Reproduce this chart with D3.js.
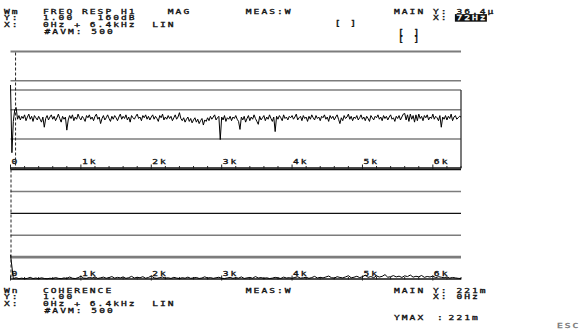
<!DOCTYPE html>
<html><head><meta charset="utf-8">
<script src="https://cdn.jsdelivr.net/npm/d3@7"></script>
<style>
body{margin:0;background:#fff}
svg text{font-family:"DejaVu Sans Mono",monospace;font-size:6px;fill:#111;stroke:#111;stroke-width:0.28px}
</style>
</head><body>
<svg id="c" width="583" height="329"></svg>
<script>
// ---- data ----
const magStepHz = 20;           // spacing of the magnitude samples
const cohStepHz = 40;           // spacing of the coherence samples
const freqMaxHz = 6400;
// FREQ RESP H1, magnitude in dB (0 dB = 1.00, 160 dB range)
const magDb = [
 -46,-139,-96,-80,-77,-93,-88,-94,-89,-92,
 -87,-95,-90,-86,-93,-89,-96,-88,-91,-94,
 -89,-93,-97,-90,-104,-92,-88,-94,-90,-87,
 -93,-89,-95,-91,-86,-92,-97,-89,-93,-90,
 -108,-94,-88,-92,-87,-95,-90,-93,-86,-91,
 -94,-89,-92,-96,-88,-91,-87,-93,-90,-95,
 -89,-86,-93,-90,-99,-92,-88,-94,-91,-87,
 -92,-96,-89,-93,-88,-91,-95,-90,-86,-93,
 -89,-92,-87,-94,-90,-97,-88,-91,-93,-89,
 -86,-92,-90,-95,-88,-91,-87,-93,-89,-94,
 -90,-87,-93,-89,-92,-96,-88,-91,-86,-94,
 -90,-93,-88,-92,-89,-95,-91,-87,-93,-90,
 -84,-92,-95,-91,-97,-93,-90,-96,-92,-98,
 -94,-91,-97,-93,-99,-95,-92,-101,-94,-96,
 -91,-95,-89,-93,-90,-87,-94,-91,-89,-121,
 -90,-94,-88,-96,-91,-93,-89,-95,-90,-92,
 -88,-93,-96,-107,-90,-94,-89,-97,-92,-88,
 -95,-90,-93,-87,-92,-96,-100,-89,-94,-91,
 -88,-95,-90,-93,-87,-92,-96,-90,-110,-89,
 -93,-88,-91,-95,-87,-92,-90,-94,-89,-91,
 -88,-93,-90,-86,-94,-91,-89,-95,-88,-92,
 -90,-96,-89,-93,-87,-91,-94,-88,-92,-90,
 -95,-89,-91,-87,-93,-90,-96,-88,-92,-89,
 -94,-90,-87,-93,-99,-91,-95,-88,-92,-90,
 -86,-93,-89,-95,-90,-92,-88,-94,-91,-87,
 -93,-90,-95,-89,-92,-96,-88,-91,-94,-89,
 -91,-87,-93,-90,-95,-88,-92,-89,-94,-90,
 -87,-93,-91,-96,-89,-92,-88,-94,-90,-86,
 -85,-94,-87,-96,-86,-93,-88,-97,-87,-95,
 -86,-92,-89,-95,-88,-91,-87,-94,-90,-92,
 -86,-93,-89,-91,-95,-88,-104,-90,-93,-88,
 -94,-89,-92,-86,-95,-90,-88,-93,-91,-89,
 -90
];
// COHERENCE (linear, 0..1)
const coherence = [
 0.221,0.004,0.012,0.003,0.008,0.002,0.006,0.015,0.004,0.009,
 0.003,0.011,0.005,0.002,0.007,0.004,0.013,0.006,0.003,0.010,
 0.005,0.018,0.007,0.004,0.012,0.025,0.008,0.006,0.014,0.009,
 0.020,0.005,0.011,0.017,0.007,0.013,0.022,0.008,0.015,0.010,
 0.019,0.006,0.012,0.024,0.009,0.016,0.011,0.021,0.007,0.014,
 0.028,0.010,0.006,0.013,0.018,0.008,0.011,0.005,0.015,0.009,
 0.004,0.012,0.007,0.017,0.006,0.010,0.014,0.005,0.009,0.020,
 0.008,0.013,0.006,0.011,0.016,0.007,0.004,0.010,0.015,0.006,
 0.012,0.008,0.019,0.005,0.010,0.014,0.007,0.022,0.009,0.013,
 0.006,0.011,0.004,0.008,0.015,0.010,0.005,0.017,0.009,0.012,
 0.007,0.014,0.020,0.008,0.011,0.016,0.006,0.013,0.024,0.009,
 0.015,0.010,0.018,0.027,0.012,0.008,0.021,0.014,0.010,0.019,
 0.030,0.011,0.016,0.025,0.013,0.020,0.035,0.015,0.022,0.012,
 0.028,0.018,0.024,0.040,0.016,0.021,0.031,0.019,0.026,0.014,
 0.029,0.022,0.036,0.017,0.025,0.020,0.032,0.015,0.023,0.018,
 0.027,0.012,0.021,0.016,0.011,0.019,0.008,0.014,0.010,0.006,
 0.004
];
const majorTickHz = [0,1000,2000,3000,4000,5000,6000];
const tickLabels = ["0","1k","2k","3k","4k","5k","6k"];
const minorStepHz = 200;
const magGridDb = [0,-40,-80,-120];
const magWindowDb = -53;
const magRangeDb = [-160,0];
const cohGridBlack = [0.6];
const cohGridGray = [0.8,0.4];
const cohGridDouble = [0.2];
const cursorTopHz = 72;
const cursorBotHz = 0;

// header texts  [text, column, row]  (fixed-pitch character grid)
const topHeader = [
 ["Wm",0,0],["FREQ RESP H1",5,0],["MAG",21,0],["MEAS:W",31,0],
 ["MAIN",50,0],["Y:",55,0],["36.4µ",58,0],
 ["Y:",0,1],["1.00",5,1],["160dB",12,1],["[ ]",42.4,1.6],["X:",55,1],
 ["X:",0,2],["0Hz + 6.4kHz",5,2],["LIN",19,2],["[  ]",50.5,3],
 ["#AVM: 500",5.2,3],["[  ]",50.5,4]
];
const topHighlight = ["72Hz",58,1];
const botHeader = [
 ["Wn",0,0],["COHERENCE",5,0],["MEAS:W",31,0],["MAIN",50,0],["Y:",55,0],["221m",58,0],
 ["Y:",0,1],["1.00",5,1],["X:",55,1],["0Hz",58,1],
 ["X:",0,2],["0Hz + 6.4kHz",5,2],["LIN",19,2],
 ["#AVM: 500",5.2,3]
];
const ymaxText = [["YMAX",50],[":",55.5],["221m",57]];

// ---- drawing ----
const svg = d3.select("#c");
const x = d3.scaleLinear([0,freqMaxHz],[10.5,461]);
const yTop = d3.scaleLinear(magRangeDb,[168,51.5]);
const yBot = d3.scaleLinear([0,1],[279,169.5]);
const colX = c => 4 + c*7.8;

function T(g,xp,yp,s){
  return g.append("text")
    .attr("transform",`translate(${xp},${yp}) scale(1.6,1.12)`)
    .attr("letter-spacing","1.27px").text(s);
}
const gray="#7c7c7c";
function hline(y,x0,x1,col,w){
  svg.append("line").attr("x1",x0).attr("x2",x1).attr("y1",y).attr("y2",y)
    .attr("stroke",col).attr("stroke-width",w);
}

// top header
const rowH = 6.9;
const topY = r => 13.5 + r*rowH;
const th = svg.append("g");
topHeader.forEach(d=>T(th,colX(d[1]),topY(d[2]),d[0]));
th.append("rect").attr("x",colX(topHighlight[1])-1.5).attr("y",topY(topHighlight[2])-6.3)
  .attr("width",32).attr("height",7.6).attr("fill","#111");
T(th,colX(topHighlight[1]),topY(topHighlight[2]),topHighlight[0]).style("fill","#fff").style("stroke","#fff");

// top panel grid
magGridDb.forEach(v=>hline(yTop(v),x(0),x(freqMaxHz),gray,v===0?2:1.5));
hline(yTop(magWindowDb),x(0),x(freqMaxHz),gray,1.5);
svg.append("line").attr("x1",x(freqMaxHz)).attr("x2",x(freqMaxHz))
  .attr("y1",yTop(magWindowDb)).attr("y2",yTop(-160)).attr("stroke","#333").attr("stroke-width",1.3);

// axis
function axis(yAxis, yLab){
  hline(yAxis,x(0),x(freqMaxHz),"#111",1.6);
  const minor=d3.range(0,freqMaxHz+1,minorStepHz);
  svg.append("g").selectAll("line").data(minor).join("line")
    .attr("x1",d=>x(d)).attr("x2",d=>x(d))
    .attr("y1",d=>yAxis-(d%1000===0?3.5:2)).attr("y2",d=>yAxis+(d%1000===0?1.5:0.5))
    .attr("stroke","#222").attr("stroke-width",1);
  const lg=svg.append("g");
  majorTickHz.forEach((h,i)=>T(lg,x(h)+1,yLab,tickLabels[i]));
}
axis(yTop(-160), 164);

// top trace
const lineTop = d3.line().x((d,i)=>x(i*magStepHz)).y(d=>yTop(d));
svg.append("path").attr("d",lineTop(magDb)).attr("fill","none")
  .attr("stroke","#000").attr("stroke-width",1);

// top cursor
svg.append("line").attr("x1",x(cursorTopHz)).attr("x2",x(cursorTopHz))
  .attr("y1",yTop(0)+1).attr("y2",yTop(-160)).attr("stroke","#222")
  .attr("stroke-width",1).attr("stroke-dasharray","3,2");

// bottom panel
hline(yBot(1),x(0),x(freqMaxHz),"#111",1.3);
cohGridGray.forEach(v=>hline(yBot(v),x(0),x(freqMaxHz),gray,1.5));
cohGridBlack.forEach(v=>hline(yBot(v),x(0),x(freqMaxHz),"#111",1.2));
cohGridDouble.forEach(v=>hline(yBot(v),x(0),x(freqMaxHz),gray,2.6));
axis(yBot(0), 276);
const lineBot = d3.line().x((d,i)=>x(i*cohStepHz)).y(d=>yBot(d));
svg.append("path").attr("d",lineBot(coherence)).attr("fill","none")
  .attr("stroke","#000").attr("stroke-width",1);
svg.append("line").attr("x1",x(cursorBotHz)+0.5).attr("x2",x(cursorBotHz)+0.5)
  .attr("y1",yBot(1)).attr("y2",yBot(0)).attr("stroke","#222")
  .attr("stroke-width",1).attr("stroke-dasharray","3,2");

// bottom header
const botY = r => 292.5 + r*rowH;
const bh=svg.append("g");
botHeader.forEach(d=>T(bh,colX(d[1]),botY(d[2]),d[0]));
ymaxText.forEach(d=>T(bh,colX(d[1]),320,d[0]));
T(bh,557,327.5,"ESC").style("fill","#777").style("stroke","#777");
</script>
</body></html>
